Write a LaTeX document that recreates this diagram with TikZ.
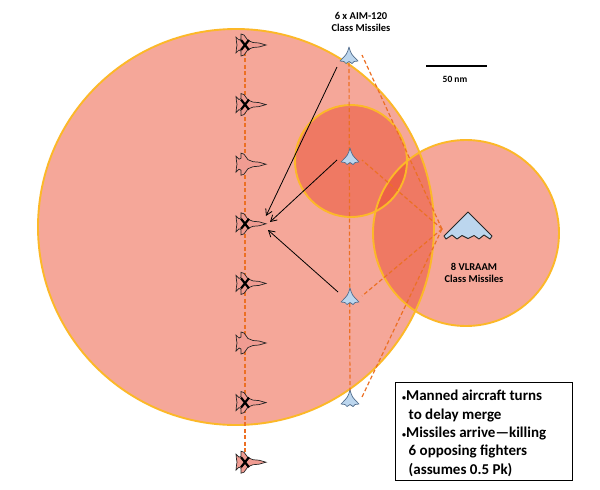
\documentclass[tikz,border=0pt]{standalone}
\usepackage{fontspec}
\setmainfont{Carlito}
\usetikzlibrary{arrows.meta}
\definecolor{zone}{RGB}{234,70,40}
\definecolor{rim}{RGB}{252,184,40}
\definecolor{dashor}{RGB}{236,112,36}
\definecolor{jetfill}{RGB}{188,214,238}
\definecolor{jetline}{RGB}{80,108,140}
\definecolor{fighterfill}{RGB}{240,156,146}
\newcommand{\smbul}{\raisebox{0.5pt}{\fontsize{8}{8}\selectfont•}}
\tikzset{
  zonefill/.style={fill=zone, fill opacity=0.47},
  zonerim/.style={draw=rim, line width=1.9pt},
  track/.style={draw=dashor, line width=1.2pt, dash pattern=on 4pt off 2.5pt},
  shot/.style={draw=black, line width=0.8pt, -{Straight Barb[length=6pt,width=7pt]}},
  lbl/.style={font=\fontsize{10.5}{12}\selectfont\bfseries, inner sep=0pt},
  fighter/.pic={
    \draw[fill=fighterfill, draw=black!85, line width=0.7pt]
      (21,0) -- (14,-2) -- (8,-2.5) -- (3,-4.5) -- (-1,-10) -- (-4,-11) -- (-4,-6)
      -- (-6,-5) -- (-9,-8) -- (-8.5,-3) -- (-8,0) -- (-8.5,3) -- (-9,8) -- (-6,5)
      -- (-4,6) -- (-4,11) -- (-1,10) -- (3,4.5) -- (8,2.5) -- (14,2) -- cycle;
  },
  killmark/.pic={
    \draw[black, line width=2.2pt] (-4,-5) -- (4,5) (-4,5) -- (4,-5);
  },
  missile/.pic={
    \draw[fill=jetfill, draw=jetline, line width=0.7pt, line join=round]
      (0,-9) .. controls (-2,-2) .. (-9,5) -- (-5,5.5) -- (-3,7.5) -- (0,5.5)
      -- (3,7.5) -- (5,5.5) -- (9,5) .. controls (2,-2) .. (0,-9) -- cycle;
  },
  bomber/.pic={
    \draw[fill=jetfill, draw=black!85, line width=0.9pt, line join=round]
      (0,0) -- (-24,24) -- (-22,27) -- (-16,23) -- (-11,27) -- (-6,23.5) -- (0,26.5)
      -- (6,23.5) -- (11,27) -- (16,23) -- (22,27) -- (24,24) -- cycle;
  }
}
\begin{document}
\begin{tikzpicture}[x=1pt,y=-1pt]
\useasboundingbox (0,0) rectangle (600,490);
\fill[white] (0,0) rectangle (600,490);

% engagement zones
\coordinate (bigc) at (236,227);
\coordinate (midc) at (351,161);
\coordinate (rgtc) at (466,233);
\fill[zonefill] (bigc) circle (198);
\fill[zonefill] (midc) circle (56);
\fill[zonefill] (rgtc) circle (93);
\draw[zonerim] (bigc) circle (198);
\draw[zonerim] (midc) circle (56);
\draw[zonerim] (rgtc) circle (93);

% opposing fighters
\foreach \i/\y in {1/45,2/104.6,3/164.2,4/223.8,5/283.4,6/343,7/402.6,8/462.2}
  \coordinate (f\i) at (245,\y);
% missiles
\coordinate (m1) at (349,56);
\coordinate (m2) at (350,157);
\coordinate (m3) at (350,297);
\coordinate (m4) at (350,399);
\coordinate (launch) at (442,229);
\coordinate (b2) at (468,212);

% tracks
\draw[track] (f1) -- (f8);
\draw[track] (m1) -- (m4);
\coordinate (m1r) at (362,55);
\coordinate (m2r) at (362,160);
\coordinate (m3r) at (362,296);
\coordinate (m4r) at (362,397);
\draw[track] (launch) -- (m1r);
\draw[track] (launch) -- (m2r);
\draw[track] (launch) -- (m3r);
\draw[track] (launch) -- (m4r);

\foreach \i in {1,...,8} \pic at (f\i) {fighter};
\foreach \i in {1,2,4,5,7,8} \pic at (f\i) {killmark};
\foreach \i in {1,...,4} \pic at (m\i) {missile};
\pic at (b2) {bomber};

% shots
\coordinate (s1) at (337,67);
\coordinate (s2) at (337,160);
\coordinate (s3) at (338,292);
\coordinate (t1) at (266,216);
\coordinate (t2) at (270,222);
\coordinate (t3) at (268,230);
\draw[shot] (s1) -- (t1);
\draw[shot] (s2) -- (t2);
\draw[shot] (s3) -- (t3);

% labels
\node[lbl, align=center] (aimlbl) at (361,22) {6 x AIM-120\\Class Missiles};
\node[lbl, align=center] (vlrlbl) at (474,272.5) {8 VLRAAM\\Class Missiles};

% scale bar
\coordinate (sbl) at (426,66);
\coordinate (sbr) at (487,66);
\draw[black, line width=1.6pt] (sbl) -- (sbr);
\node[font=\fontsize{9.5}{11}\selectfont\bfseries, inner sep=0pt] (scalelbl) at (455,79) {50 nm};

% note box
\node[draw=black, line width=1.1pt, fill=white, minimum width=177pt, minimum height=98pt,
      anchor=north west, inner sep=0pt] (box) at (395,382) {};
\node[anchor=north west, align=left, inner sep=0pt,
      font=\fontsize{15}{18.4}\selectfont\bfseries] (boxtext) at (402,390)
  {\smbul Manned aircraft turns\\\hphantom{\smbul}\,to delay merge\\\smbul Missiles arrive—killing\\\hphantom{\smbul}\,6 opposing fighters\\\hphantom{\smbul}\,(assumes 0.5 Pk)};
\end{tikzpicture}
\end{document}
